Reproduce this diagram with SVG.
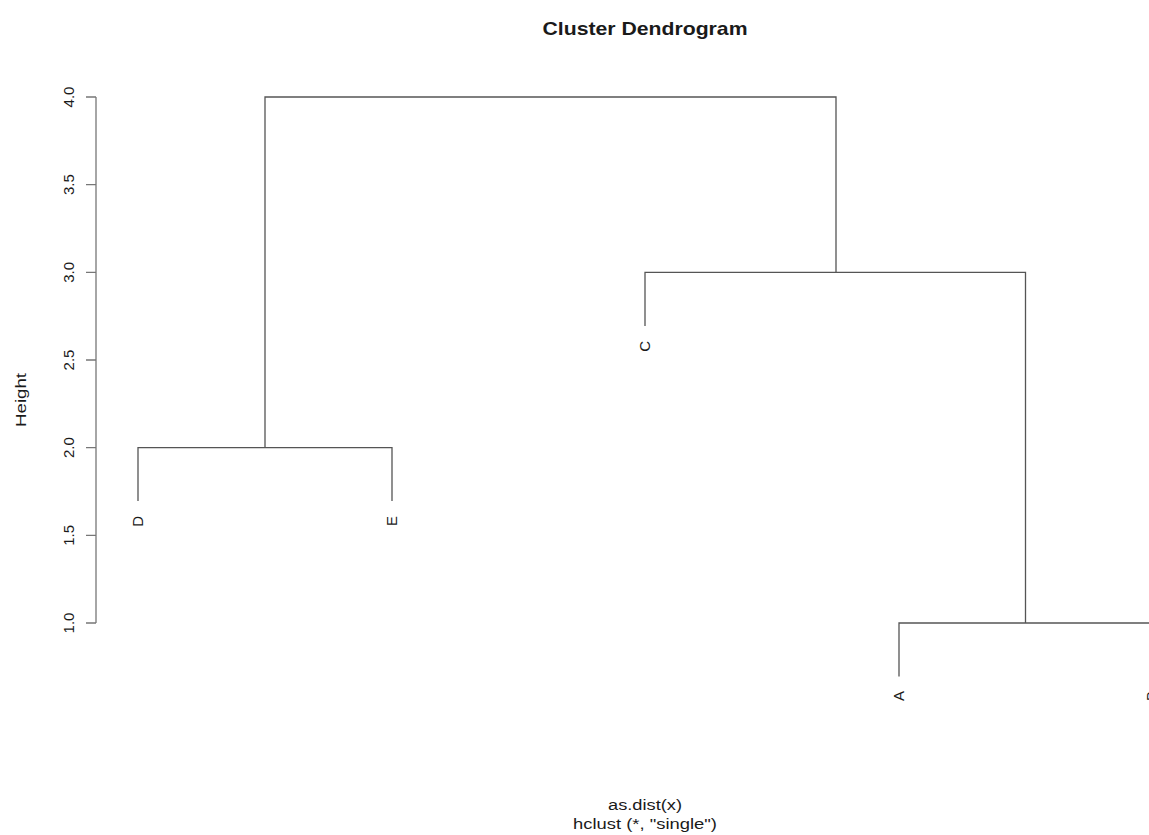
<svg xmlns="http://www.w3.org/2000/svg" width="1149" height="835" viewBox="0 0 1149 835">
  <style>
    text { font-family: "Liberation Sans", Arial, sans-serif; fill: #1a1a1a; }
    .title { font-size: 19px; font-weight: bold; }
    .sub { font-size: 14px; }
    .tick { font-size: 15px; }
    .ylab { font-size: 15px; }
    .leaf { font-size: 15px; }
    .branch { fill: none; stroke: #555; stroke-width: 1.3; }
    .axis { fill: none; stroke: #777; stroke-width: 1.3; }
  </style>
  <rect width="1149" height="835" fill="#fff"/>

  <text class="title" x="645" y="35" text-anchor="middle" textLength="205" lengthAdjust="spacingAndGlyphs">Cluster Dendrogram</text>
  <text class="sub" x="645" y="810" text-anchor="middle" textLength="74" lengthAdjust="spacingAndGlyphs">as.dist(x)</text>
  <text class="sub" x="645" y="829" text-anchor="middle" textLength="144" lengthAdjust="spacingAndGlyphs">hclust (*, "single")</text>

  <!-- y axis -->
  <g id="axis">
    <path class="axis" d="M96 97V623M86 97H96M86 184.7H96M86 272.3H96M86 360H96M86 447.7H96M86 535.3H96M86 623H96"/>
    <text class="tick" transform="translate(74 97) rotate(-90)" text-anchor="middle">4.0</text>
    <text class="tick" transform="translate(74 184.7) rotate(-90)" text-anchor="middle">3.5</text>
    <text class="tick" transform="translate(74 272.3) rotate(-90)" text-anchor="middle">3.0</text>
    <text class="tick" transform="translate(74 360) rotate(-90)" text-anchor="middle">2.5</text>
    <text class="tick" transform="translate(74 447.7) rotate(-90)" text-anchor="middle">2.0</text>
    <text class="tick" transform="translate(74 535.3) rotate(-90)" text-anchor="middle">1.5</text>
    <text class="tick" transform="translate(74 623) rotate(-90)" text-anchor="middle">1.0</text>
    <text class="ylab" transform="translate(26 400) rotate(-90)" text-anchor="middle" textLength="54" lengthAdjust="spacingAndGlyphs">Height</text>
  </g>

  <!-- branches -->
  <g id="connectors">
    <path class="branch" d="M265 447.7V97H836V272.3"/>
    <path class="branch" d="M138 501V447.7H392V501"/>
    <path class="branch" d="M645 326V272.3H1025.5V623"/>
    <path class="branch" d="M899 676.5V623H1152V676.5"/>
  </g>

  <!-- leaves -->
  <g id="leaf-D"><text class="leaf" transform="translate(143 516) rotate(-90)" text-anchor="end">D</text></g>
  <g id="leaf-E"><text class="leaf" transform="translate(397 516) rotate(-90)" text-anchor="end">E</text></g>
  <g id="leaf-C"><text class="leaf" transform="translate(650 341) rotate(-90)" text-anchor="end">C</text></g>
  <g id="leaf-A"><text class="leaf" transform="translate(904 691) rotate(-90)" text-anchor="end">A</text></g>
  <g id="leaf-B"><text class="leaf" transform="translate(1157 691) rotate(-90)" text-anchor="end">B</text></g>
</svg>
